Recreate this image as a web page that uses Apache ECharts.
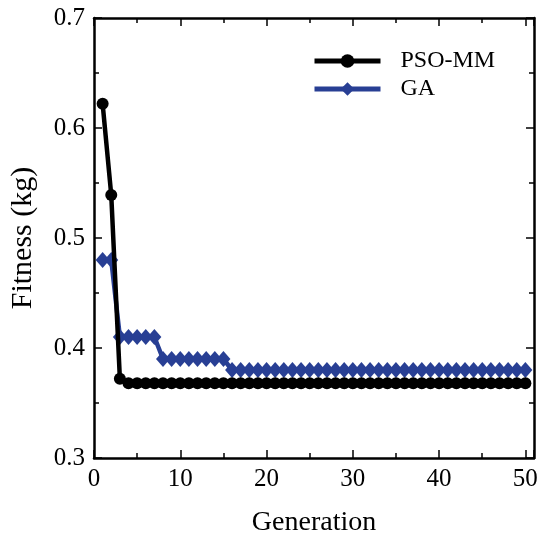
<!DOCTYPE html>
<html><head><meta charset="utf-8">
<script src="https://cdn.jsdelivr.net/npm/echarts@6/dist/echarts.min.js"></script>
<style>html,body{margin:0;padding:0;background:#fff}#c{width:542px;height:534px}</style>
</head><body><div id="c"></div>
<script>
const generations = Array.from({length:50},(_,i)=>i+1);
const psoValues = [0.622,0.539,0.372].concat(Array(47).fill(0.368));
const gaValues = [0.48,0.48,0.41,0.41,0.41,0.41,0.41,0.39,0.39,0.39,0.39,0.39,0.39,0.39,0.39].concat(Array(35).fill(0.38));
const seriesNames = ['PSO-MM','GA'];
const xTitle = 'Generation';
const yTitle = 'Fitness (kg)';

const font = 'Liberation Serif';
const chart = echarts.init(document.getElementById('c'));
const axisCommon = {
  axisLine:{show:true,onZero:false,lineStyle:{color:'#000',width:2.5}},
  axisTick:{show:true,inside:true,length:8,lineStyle:{color:'#000',width:1.5}},
  minorTick:{show:true,splitNumber:2,length:5,lineStyle:{color:'#000',width:1.5}},
  splitLine:{show:false}
};
const xBase = Object.assign({type:'value',min:0,max:51,interval:10}, axisCommon);
const yBase = Object.assign({type:'value',min:0.3,max:0.7,interval:0.1}, axisCommon);
chart.setOption({
  animation:false,
  backgroundColor:'#fff',
  grid:{left:94,right:8,top:18,bottom:76,containLabel:false,outerBoundsMode:'none'},
  legend:{
    orient:'vertical',left:307,top:44,itemWidth:66,itemHeight:17,itemGap:4,
    lineStyle:{width:5},
    textStyle:{fontFamily:font,fontSize:24,color:'#000',lineHeight:14,padding:[0,0,0,15]},
    data:seriesNames
  },
  xAxis:[
    Object.assign({}, xBase, {position:'bottom',
      name:xTitle,nameLocation:'middle',nameGap:51,
      nameTextStyle:{fontFamily:font,fontSize:28,color:'#000'},
      axisLabel:{fontFamily:font,fontSize:25,color:'#000',margin:9,
        formatter:v=>(v%10===0?String(v):'')}}),
    Object.assign({}, xBase, {position:'top',axisLabel:{show:false}})
  ],
  yAxis:[
    Object.assign({}, yBase, {position:'left',
      name:yTitle,nameLocation:'middle',nameGap:56,
      nameTextStyle:{fontFamily:font,fontSize:30,color:'#000'},
      axisLabel:{fontFamily:font,fontSize:25,color:'#000',margin:9,
        formatter:v=>v.toFixed(1)}}),
    Object.assign({}, yBase, {position:'right',axisLabel:{show:false}})
  ],
  series:[
    {name:seriesNames[0],type:'line',data:generations.map((g,i)=>[g,psoValues[i]]),
     symbol:'circle',symbolSize:12,z:3,
     lineStyle:{color:'#000',width:4.5},itemStyle:{color:'#000'}},
    {name:seriesNames[1],type:'line',data:generations.map((g,i)=>[g,gaValues[i]]),
     symbol:'diamond',symbolSize:[14,16],z:2,
     lineStyle:{color:'#283f94',width:4.5},itemStyle:{color:'#283f94'}}
  ]
});
</script></body></html>
